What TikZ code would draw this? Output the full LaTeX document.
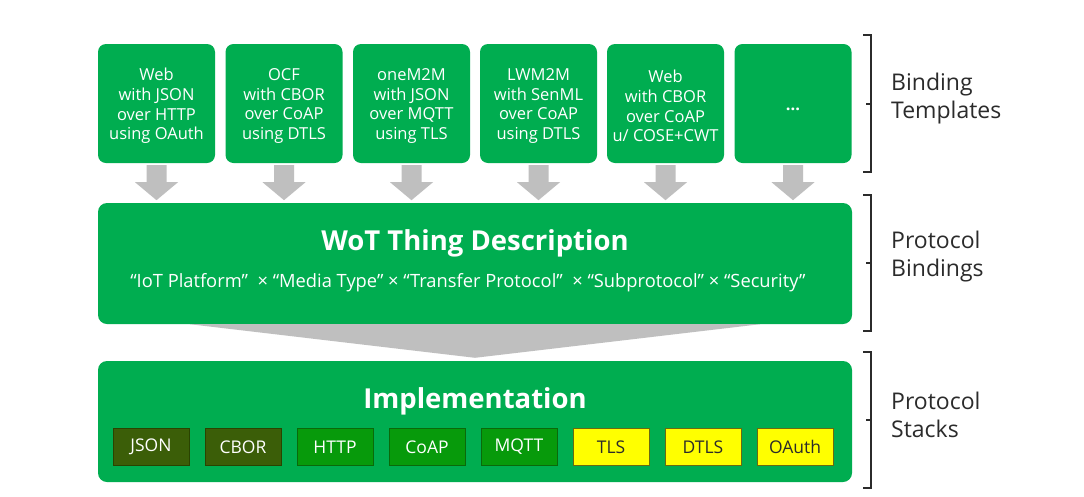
\documentclass[tikz,border=0pt]{standalone}
\usepackage{fontspec}
\setmainfont{Open Sans}
\usetikzlibrary{calc}
\definecolor{wotgreen}{HTML}{00AD50}
\definecolor{flowgray}{HTML}{BFBFBF}
\definecolor{fmtfill}{HTML}{3B5E08}
\definecolor{fmtline}{HTML}{2A4300}
\definecolor{protofill}{HTML}{079A0B}
\definecolor{protoline}{HTML}{0A6A0A}
\definecolor{secfill}{HTML}{FFFF00}
\definecolor{secline}{HTML}{6A6A10}
\definecolor{inkgray}{HTML}{2B2B2B}
\tikzset{
  template/.style={fill=wotgreen, rounded corners=8pt, minimum width=117pt,
    minimum height=119pt, inner sep=0pt},
  templatetext/.style={text=white, align=center, inner sep=0pt,
    font=\fontsize{16.5}{19.7}\selectfont},
  layer/.style={fill=wotgreen, rounded corners=9pt, minimum width=754pt,
    minimum height=121pt, inner sep=0pt},
  stackbox/.style={minimum width=76pt, minimum height=37pt, inner sep=0pt,
    line width=0.9pt, font=\fontsize{17.5}{17.5}\selectfont},
  fmtbox/.style={stackbox, fill=fmtfill, draw=fmtline, text=white},
  protobox/.style={stackbox, fill=protofill, draw=protoline, text=white},
  secbox/.style={stackbox, fill=secfill, draw=secline, text=inkgray},
  flow/.style={fill=flowgray},
  bracket/.style={draw=inkgray, line width=1.3pt},
  sidelabel/.style={anchor=west, align=left, inner sep=0pt, text=inkgray,
    font=\fontsize{23}{28}\selectfont}
}
\begin{document}
\begin{tikzpicture}[x=1pt,y=-1pt]
\useasboundingbox[fill=white] (0,0) rectangle (1084,496);

% binding templates
\node[template] (t1) at (156.5,103.5) {};
\node[template] (t2) at (284,103.5) {};
\node[template] (t3) at (411.5,103.5) {};
\node[template] (t4) at (538.5,103.5) {};
\node[template] (t5) at (665.5,103.5) {};
\node[template] (t6) at (793,103.5) {};
\node[templatetext] (t1txt) at ($(t1.center)+(0,2.5)$) {Web\\with JSON\\over HTTP\\using OAuth};
\node[templatetext] (t2txt) at ($(t2.center)+(0,2.5)$) {OCF\\with CBOR\\over CoAP\\using DTLS};
\node[templatetext] (t3txt) at ($(t3.center)+(0,2.5)$) {oneM2M\\with JSON\\over MQTT\\using TLS};
\node[templatetext] (t4txt) at ($(t4.center)+(0,2.5)$) {LWM2M\\with SenML\\over CoAP\\using DTLS};
\node[templatetext] (t5txt) at ($(t5.center)+(0,2.5)$) {Web\\with CBOR\\over CoAP\\u/ COSE+CWT};
\node[templatetext, font=\bfseries\fontsize{16.5}{19.7}\selectfont] (t6txt)
  at ($(t6.center)+(0,6)$) {...};

% thing description and implementation layers
\node[layer] (td) at (475,263.5) {};
\node[layer] (impl) at (475,421.5) {};

% arrows from templates into the thing description
\foreach \i in {1,...,6}
  \fill[flow] ($(t\i.south)+(-10,2)$) -- ($(t\i.south)+(10,2)$)
    -- ($(t\i.south)+(10,19)$) -- ($(t\i.south)+(21.5,19)$)
    -- ($(t\i.south)+(0,37)$) -- ($(t\i.south)+(-21.5,19)$)
    -- ($(t\i.south)+(-10,19)$) -- cycle;

% funnel from the thing description down to the implementation
\fill[flow] ($(td.south west)+(92,0)$) -- ($(td.south east)+(-92,0)$)
  -- ($(impl.north)+(0,-3)$) -- cycle;

\node[text=white, font=\bfseries\fontsize{27.5}{27.5}\selectfont] (tdtitle)
  at (475,243) {WoT Thing Description};
\node[text=white, font=\fontsize{18.3}{18.3}\selectfont] (tdsub)
  at (468,283) {“IoT Platform”~~× “Media Type” × “Transfer Protocol”~~× “Subprotocol” × “Security”};

\node[text=white, font=\bfseries\fontsize{27.5}{27.5}\selectfont] (impltitle)
  at (475,401) {Implementation};

% protocol stack building blocks
\node[fmtbox] (s1) at (151,447) {JSON};
\node[fmtbox] (s2) at (243,447) {CBOR};
\node[protobox] (s3) at (335,447) {HTTP};
\node[protobox] (s4) at (427,447) {CoAP};
\node[protobox] (s5) at (519,447) {MQTT};
\node[secbox] (s6) at (611,447) {TLS};
\node[secbox] (s7) at (703,447) {DTLS};
\node[secbox] (s8) at (795,447) {OAuth};

% brackets and labels on the right
\draw[bracket] (863,35) -- (871,35) -- (871,172) -- (863,172);
\draw[bracket] (871,104) -- (866,104);
\draw[bracket] (863,195) -- (871,195) -- (871,331) -- (863,331);
\draw[bracket] (871,263) -- (866,263);
\draw[bracket] (863,352) -- (871,352) -- (871,488) -- (863,488);
\draw[bracket] (871,420) -- (866,420);

\node[sidelabel] (lbl1) at (891,99) {Binding\\Templates};
\node[sidelabel] (lbl2) at (891,257) {Protocol\\Bindings};
\node[sidelabel] (lbl3) at (891,415) {Protocol\\Stacks};
\end{tikzpicture}
\end{document}
